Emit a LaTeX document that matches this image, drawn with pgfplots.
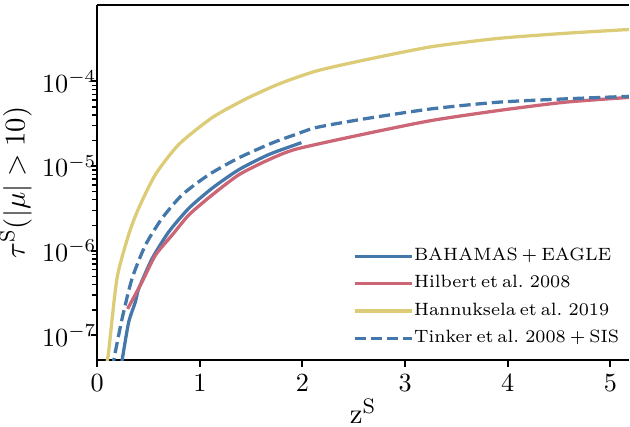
\documentclass[border=0pt]{standalone}
\usepackage{pgfplots}
\pgfplotsset{compat=1.18}
\definecolor{tolblue}{HTML}{4477AA}
\definecolor{tolred}{HTML}{CC6677}
\definecolor{tolsand}{HTML}{DDCC77}
\newcommand{\legfont}{\fontsize{6.8}{8}\selectfont\spaceskip=0.22em\relax}
\begin{document}
\begin{tikzpicture}
\begin{axis}[
  scale only axis,
  width=203pt, height=135.6pt,
  ymode=log,
  xmin=0, xmax=5.18,
  ymin=5.1e-8, ymax=8.0e-4,
  axis x line*=box, axis y line*=left,
  xtick pos=bottom, ytick pos=left,
  tick align=outside,
  axis line style={line width=0.9pt, black},
  major tick style={line width=0.75pt, black},
  minor tick style={line width=0.55pt, black},
  major tick length=2.5pt, minor tick length=1.9pt,
  xtick={0,1,2,3,4,5},
  ytick={1e-7,1e-6,1e-5,1e-4},
  tick label style={font=\fontsize{10}{12}\selectfont},
  xticklabel style={inner sep=0pt, anchor=north, yshift=-3.0pt},
  yticklabel style={inner sep=0pt, anchor=east, xshift=2.4pt},
  xlabel={$\mathrm{z}^{\mathrm{S}}$},
  ylabel={$\tau^{\mathrm{S}}(|\mu|>10)$},
  label style={font=\fontsize{11}{13}\selectfont, inner sep=0pt},
  xlabel style={at={([yshift=-24.5pt]axis description cs:0.5,0)}, anchor=south},
  ylabel style={at={([xshift=-37.3pt]axis description cs:0,0.5)}, anchor=north},
  legend style={at={([xshift=-3.5pt, yshift=5.0pt]axis description cs:1,0)},
    anchor=south east, draw=none, fill=none, inner sep=0pt, row sep=4.2pt,
    nodes={inner sep=0pt}, font=\legfont},
  legend image code/.code={\draw[#1] (0pt,0pt) -- (17.3pt,0pt);
    \path (0pt,0pt) -- (22pt,0pt);},
  legend cell align=left,
  every axis plot/.append style={line width=1.25pt, smooth, tension=0.4},
]
\addplot[tolblue] coordinates {
 (0.23,4.0e-8) (0.242,5.0e-8) (0.307,1.43e-7) (0.373,2.5e-7) (0.405,3.56e-7)
 (0.536,8.1e-7) (0.699,1.68e-6) (0.895,3.19e-6) (1.124,5.52e-6)
 (1.385,9.14e-6) (1.679,1.38e-5) (1.99,1.89e-5)};
\addlegendentry{BAHAMAS + EAGLE}
\addplot[tolred] coordinates {
 (0.297,2.06e-7) (0.438,4.3e-7) (0.569,8.9e-7) (0.732,1.54e-6) (0.895,2.66e-6)
 (1.124,4.6e-6) (1.385,7.96e-6) (1.679,1.2e-5) (1.941,1.59e-5)
 (2.595,2.38e-5) (3.248,3.44e-5) (3.902,4.52e-5) (4.556,5.68e-5) (5.2,6.5e-5)};
\addlegendentry{Hilbert et al. 2008}
\addplot[tolsand] coordinates {
 (0.09,4.5e-8) (0.111,6.3e-8) (0.193,4.7e-7) (0.307,1.55e-6) (0.405,3.19e-6)
 (0.569,8.0e-6) (0.797,1.81e-5) (1.124,3.76e-5) (1.451,6.23e-5)
 (1.777,9.4e-5) (2.137,1.33e-4) (2.595,1.78e-4) (3.248,2.56e-4)
 (3.902,3.22e-4) (4.556,3.70e-4) (5.2,4.12e-4)};
\addlegendentry{Hannuksela et al. 2019}
\addplot[tolblue, dash pattern=on 4.3pt off 1.9pt] coordinates {
 (0.15,4.0e-8) (0.16,5.0e-8) (0.242,1.56e-7) (0.34,4.7e-7) (0.471,1.17e-6)
 (0.634,2.43e-6) (0.83,4.6e-6) (1.091,7.96e-6) (1.385,1.26e-5)
 (1.712,1.89e-5) (1.941,2.38e-5) (2.137,2.86e-5) (2.595,3.6e-5)
 (3.248,4.73e-5) (3.902,5.68e-5) (4.556,6.22e-5) (5.2,6.68e-5)};
\addlegendentry{Tinker et al. 2008 + SIS}
\coordinate (tl) at (rel axis cs:0,1);
\coordinate (bl) at (rel axis cs:0,0);
\end{axis}
\path (tl) ++(0,1.9pt);
\path (bl) ++(0,-25.2pt);
\end{tikzpicture}
\end{document}
